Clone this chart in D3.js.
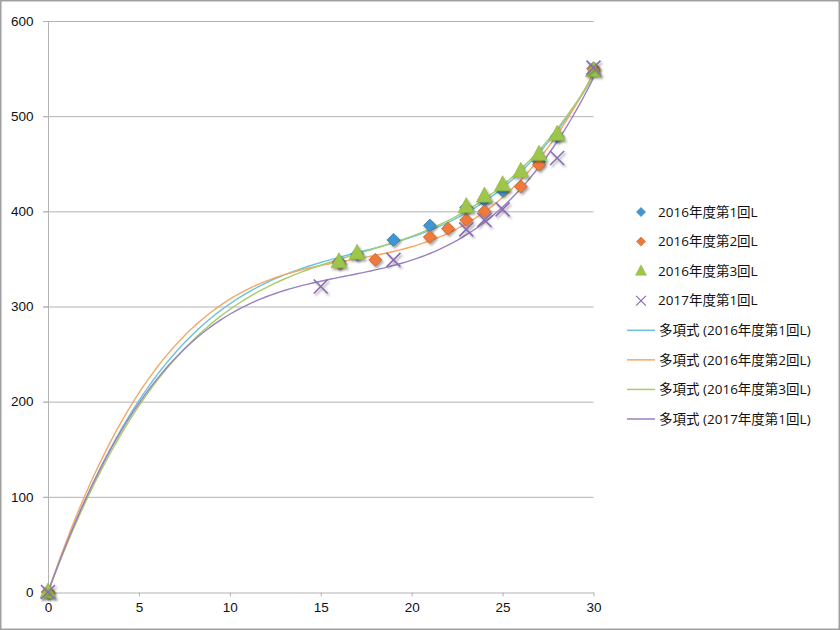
<!DOCTYPE html>
<html lang="ja">
<head>
<meta charset="UTF-8">
<title>多項式 近似</title>
<script src="https://d3js.org/d3.v7.min.js"></script>
<style>
  body { margin: 0; background: #fff; }
  svg { display: block; font-family: 'Open Sans', 'Noto Sans CJK JP', sans-serif; }
  .grid line { stroke: #b3b3b3; }
  .axis path, .axis line { stroke: #b3b3b3; }
  .axis text { fill: #111; font-size: 13.5px; }
  .legend text { font-size: 13.5px; fill: #111; }
</style>
</head>
<body>
<div id="chart"></div>
<script>
// series data (x, y) - some points sit under the triangles
const s2016_1 = [[0, 0], [16, 347], [17, 355], [19, 370], [21, 385], [23, 404], [24, 412], [25, 422], [27, 452], [28, 479], [30, 550]];
const s2016_2 = [[0, 0], [16, 346], [18, 349], [21, 373], [22, 382], [23, 391], [24, 400], [26, 426], [27, 449], [30, 550]];
const s2016_3 = [[0, 0], [16, 347], [17, 356], [23, 405], [24, 416], [25, 428], [26, 442], [27, 460], [28, 481], [30, 548]];
const s2017_1 = [[0, 0], [15, 321], [19, 349], [23, 381], [24, 391], [25, 402], [28, 456], [30, 551]];

const seriesNames = ["2016年度第1回L", "2016年度第2回L", "2016年度第3回L", "2017年度第1回L"];
const markerColors = ["#3f97cf", "#ee7a3a", "#9dc64b", "#8a6cb0"];
const trendColors = ["#6cc2dc", "#f7a665", "#a7cd6a", "#9a80c2"];
const markerTypes = ["diamond", "diamond", "triangle", "cross"];
const xTicks = [0, 5, 10, 15, 20, 25, 30];
const yTicks = [0, 100, 200, 300, 400, 500, 600];

const allSeries = [s2016_1, s2016_2, s2016_3, s2017_1];

const W = 840, H = 630;
const svg = d3.select("#chart").append("svg").attr("width", W).attr("height", H);

// drop shadow for markers
const defs = svg.append("defs");
const f = defs.append("filter").attr("id", "shadow").attr("x", "-50%").attr("y", "-50%").attr("width", "200%").attr("height", "200%");
f.append("feDropShadow").attr("dx", 1.5).attr("dy", 2).attr("stdDeviation", 1.2).attr("flood-color", "#000").attr("flood-opacity", 0.35);

svg.append("rect").attr("x", 0.75).attr("y", 0.75).attr("width", W - 1.5).attr("height", H - 1.5)
  .attr("fill", "#fff").attr("stroke", "#a0a0a0").attr("stroke-width", 1.5);

const x = d3.scaleLinear().domain([0, 30]).range([48, 593.5]);
const y = d3.scaleLinear().domain([0, 600]).range([592, 21]);

// gridlines
svg.append("g").attr("class", "grid")
  .selectAll("line").data(yTicks.slice(1)).join("line")
  .attr("x1", x(0) - 5).attr("x2", x(30))
  .attr("y1", d => y(d) + 0.5).attr("y2", d => y(d) + 0.5);

const yAxis = svg.append("g").attr("class", "axis")
  .attr("transform", `translate(${x(0) + 0.5},0)`)
  .call(d3.axisLeft(y).tickValues(yTicks).tickSize(5).tickPadding(10).tickSizeOuter(0));
yAxis.select(".domain").attr("d", `M0,${y(0)}V${y(600)}`);

const xAxis = svg.append("g").attr("class", "axis")
  .attr("transform", `translate(0,${y(0) + 0.5})`)
  .call(d3.axisBottom(x).tickValues(xTicks).tickSize(4).tickPadding(6).tickSizeOuter(0));
xAxis.selectAll(".tick").filter(d => d === 0).select("line").remove();

// cubic least squares fit (Excel style polynomial trendline)
function polyFit(pts, order) {
  const n = order + 1;
  const A = Array.from({ length: n }, () => new Array(n + 1).fill(0));
  pts.forEach(([px, py]) => {
    for (let i = 0; i < n; i++) {
      for (let j = 0; j < n; j++) A[i][j] += Math.pow(px, i + j);
      A[i][n] += py * Math.pow(px, i);
    }
  });
  for (let c = 0; c < n; c++) {
    let p = c;
    for (let r = c + 1; r < n; r++) if (Math.abs(A[r][c]) > Math.abs(A[p][c])) p = r;
    [A[c], A[p]] = [A[p], A[c]];
    for (let r = 0; r < n; r++) {
      if (r === c) continue;
      const k = A[r][c] / A[c][c];
      for (let j = c; j <= n; j++) A[r][j] -= k * A[c][j];
    }
  }
  const coef = A.map((row, i) => row[n] / row[i]);
  return t => coef.reduce((s, a, i) => s + a * Math.pow(t, i), 0);
}

const line = d3.line().x(d => x(d[0])).y(d => y(d[1]));
const samples = d3.range(0, 30.01, 0.25);

allSeries.forEach((pts, i) => {
  const fn = polyFit(pts, 3);
  svg.append("path")
    .datum(samples.map(t => [t, fn(t)]))
    .attr("fill", "none").attr("stroke", trendColors[i]).attr("stroke-width", 1.4)
    .attr("d", line);
});

function drawMarker(g, type, color) {
  if (type === "diamond") {
    g.append("path").attr("d", "M0,-6.5L6.5,0L0,6.5L-6.5,0Z").attr("fill", color)
      .attr("stroke", d3.color(color).darker(0.6)).attr("stroke-width", 0.8);
  } else if (type === "triangle") {
    g.append("path").attr("d", "M0,-9L8,6L-8,6Z").attr("fill", color)
      .attr("stroke", d3.color(color).darker(0.3)).attr("stroke-width", 0.6);
  } else {
    g.append("path").attr("d", "M-7,-7L7,7M-7,7L7,-7").attr("fill", "none")
      .attr("stroke", color).attr("stroke-width", 1.6);
  }
}

allSeries.forEach((pts, i) => {
  svg.append("g").attr("filter", "url(#shadow)")
    .selectAll("g").data(pts).join("g")
    .attr("transform", d => `translate(${x(d[0])},${y(d[1])})`)
    .each(function () { drawMarker(d3.select(this), markerTypes[i], markerColors[i]); });
});

// legend
const legend = svg.append("g").attr("class", "legend");
const legendRows = seriesNames.map((n, i) => ({ kind: "marker", i, label: n }))
  .concat(seriesNames.map((n, i) => ({ kind: "trend", i, label: `多項式 (${n})` })));
const ly = d3.scaleLinear().domain([0, 7]).range([212, 419]);

legendRows.forEach((r, k) => {
  const g = legend.append("g").attr("transform", `translate(0,${ly(k)})`);
  if (r.kind === "marker") {
    const m = g.append("g").attr("transform", "translate(641,0) scale(0.7)");
    drawMarker(m, markerTypes[r.i], markerColors[r.i]);
    g.append("text").attr("x", 658).attr("dy", "0.35em").text(r.label);
  } else {
    g.append("line").attr("x1", 627).attr("x2", 655).attr("stroke", trendColors[r.i]).attr("stroke-width", 1.5);
    g.append("text").attr("x", 659).attr("dy", "0.35em").text(r.label);
  }
});
</script>
</body>
</html>
